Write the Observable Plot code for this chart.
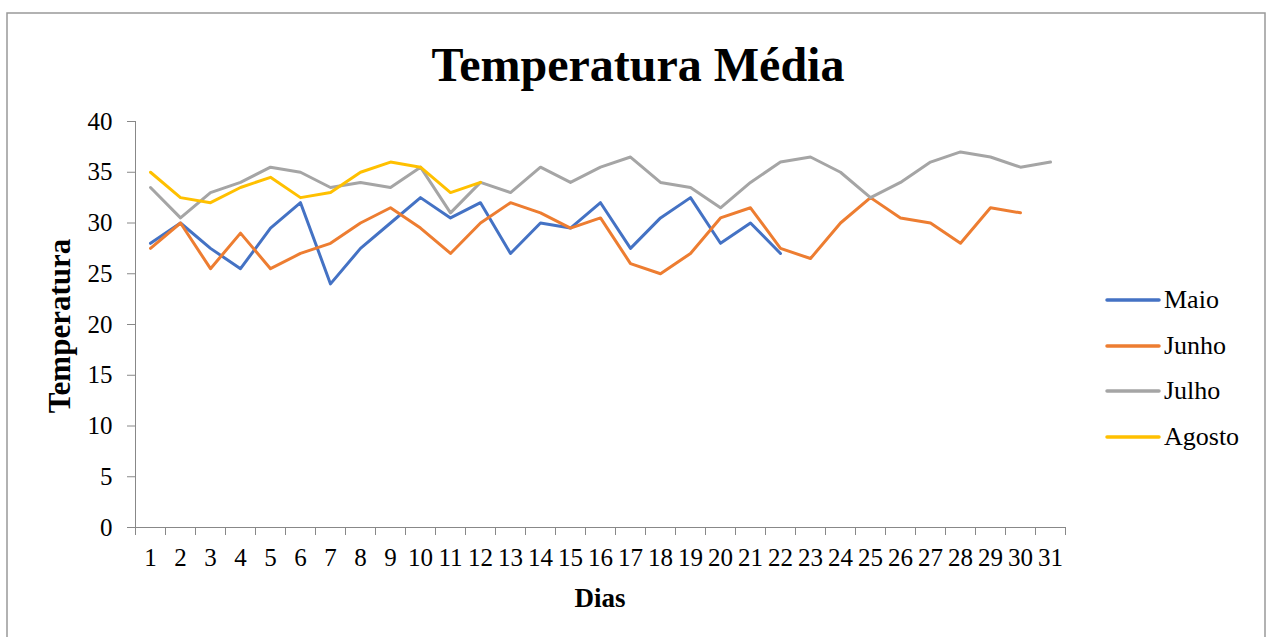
<!DOCTYPE html>
<html>
<head>
<meta charset="utf-8">
<script src="https://cdn.jsdelivr.net/npm/d3@7"></script>
<script src="https://cdn.jsdelivr.net/npm/@observablehq/plot@0.6"></script>
<style>
  html, body { margin: 0; padding: 0; background: #fff; }
  #chart { width: 1268px; height: 637px; position: relative; }
</style>
</head>
<body>
<div id="chart"></div>
<script>
const days = d3.range(1, 32);
const maio = [28, 30, 27.5, 25.5, 29.5, 32, 24, 27.5, 30, 32.5, 30.5, 32, 27, 30, 29.5, 32, 27.5, 30.5, 32.5, 28, 30, 27];
const junho = [27.5, 30, 25.5, 29, 25.5, 27, 28, 30, 31.5, 29.5, 27, 30, 32, 31, 29.5, 30.5, 26, 25, 27, 30.5, 31.5, 27.5, 26.5, 30, 32.5, 30.5, 30, 28, 31.5, 31];
const julho = [33.5, 30.5, 33, 34, 35.5, 35, 33.5, 34, 33.5, 35.5, 31, 34, 33, 35.5, 34, 35.5, 36.5, 34, 33.5, 31.5, 34, 36, 36.5, 35, 32.5, 34, 36, 37, 36.5, 35.5, 36];
const agosto = [35, 32.5, 32, 33.5, 34.5, 32.5, 33, 35, 36, 35.5, 33, 34];
const seriesNames = ["Maio", "Junho", "Julho", "Agosto"];
const seriesValues = [maio, junho, julho, agosto];
const colors = ["#4472C4", "#ED7D31", "#A5A5A5", "#FFC000"];
const yTicks = [0, 5, 10, 15, 20, 25, 30, 35, 40];

const rows = [];
seriesNames.forEach((name, i) => {
  seriesValues[i].forEach((v, j) => rows.push({serie: name, dia: days[j], temp: v}));
});

const font = "'Liberation Serif', 'Times New Roman', serif";
const W = 1268, H = 637;
const mL = 135, mR = 203, mT = 121, mB = 110;

const plot = Plot.plot({
  width: W,
  height: H,
  marginLeft: mL,
  marginRight: mR,
  marginTop: mT,
  marginBottom: mB,
  style: {fontFamily: font, fontSize: "25px", color: "#000", background: "transparent", overflow: "visible"},
  x: {type: "linear", domain: [0.5, 31.5]},
  y: {domain: [0, 40]},
  color: {domain: seriesNames, range: colors},
  marks: [
    Plot.axisY({ticks: yTicks, tickSize: 8, tickPadding: 15, tickFormat: d => d, label: null, stroke: "#888", fill: "#000", fontSize: 25}),
    Plot.ruleX([0.5], {stroke: "#888", strokeWidth: 1}),
    Plot.axisX({ticks: d3.range(0.5, 32, 1), tickSize: 8, tickFormat: () => "", label: null, stroke: "#888"}),
    Plot.axisX({ticks: days, tickSize: 0, tickPadding: 21, tickFormat: d => d, label: null, fill: "#000", fontSize: 25}),
    Plot.ruleY([0], {stroke: "#888", strokeWidth: 1}),
    Plot.line(rows, {x: "dia", y: "temp", z: "serie", stroke: "serie", strokeWidth: 3, strokeLinejoin: "round", strokeLinecap: "round"})
  ]
});

const svg = d3.select(plot);
// border
svg.insert("rect", ":first-child")
  .attr("x", 7).attr("y", 13).attr("width", 1258).attr("height", 640)
  .attr("fill", "#fff").attr("stroke", "#999").attr("stroke-width", 1.5);

// title
svg.append("text").attr("x", 638).attr("y", 81).attr("text-anchor", "middle")
  .attr("font-family", font).attr("font-weight", "bold").attr("font-size", 48)
  .attr("fill", "#000").text("Temperatura Média");

// y label
svg.append("text").attr("transform", "translate(70,326) rotate(-90)").attr("text-anchor", "middle")
  .attr("font-family", font).attr("font-weight", "bold").attr("font-size", 31)
  .attr("fill", "#000").text("Temperatura");

// x label
svg.append("text").attr("x", 600).attr("y", 607).attr("text-anchor", "middle")
  .attr("font-family", font).attr("font-weight", "bold").attr("font-size", 27)
  .attr("fill", "#000").text("Dias");

// legend
const legendY = [300, 346, 391, 437];
const lg = svg.append("g");
seriesNames.forEach((name, i) => {
  lg.append("line").attr("x1", 1107).attr("x2", 1159).attr("y1", legendY[i]).attr("y2", legendY[i])
    .attr("stroke", colors[i]).attr("stroke-width", 3.5).attr("stroke-linecap", "round");
  lg.append("text").attr("x", 1164).attr("y", legendY[i] + 8).attr("text-anchor", "start")
    .attr("font-family", font).attr("font-size", 26).attr("fill", "#000").text(name);
});

document.getElementById("chart").appendChild(plot);
</script>
</body>
</html>
